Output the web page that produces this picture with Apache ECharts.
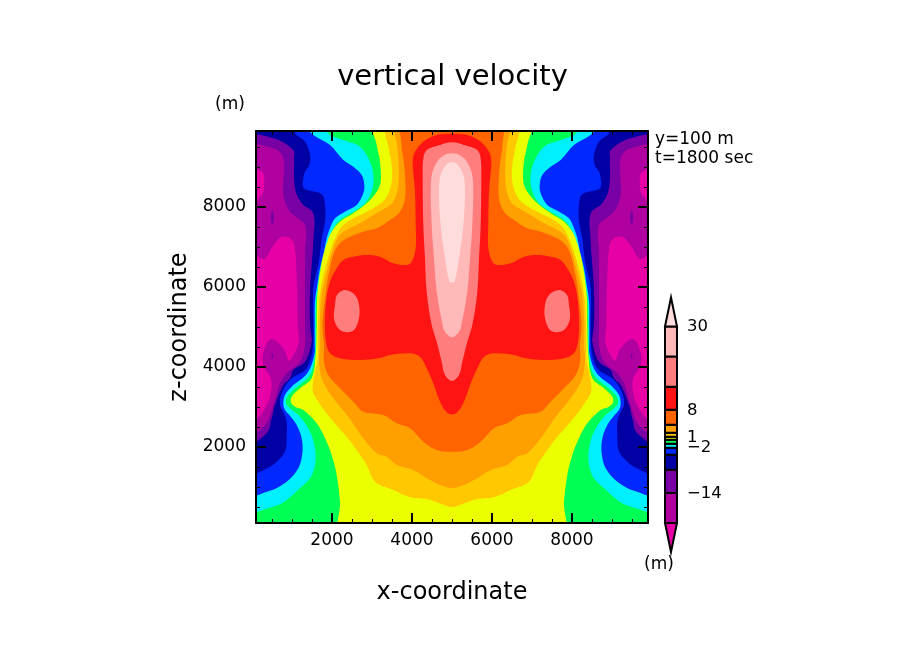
<!DOCTYPE html>
<html><head><meta charset="utf-8">
<style>html,body{margin:0;padding:0;background:#fff}#c{width:904px;height:654px}</style>
<script src="https://cdn.jsdelivr.net/npm/echarts@6/dist/echarts.min.js"></script>
</head><body><div id="c"></div>
<script>
// Left-hand half outlines of each contour, in metres [x, z].
const yellowOutline=[[3033,9900],[3117,9550],[3200,9133],[3217,8633],[3117,8383],[2867,8092],[2533,7842],[2200,7633],[1992,7383],[1883,7133],[1783,6800],[1717,6467],[1658,6050],[1625,5633],[1617,5050],[1608,4633],[1592,4300],[1492,3717],[1200,3467],[992,3258],[975,3117],[1075,3008],[1283,2925],[1617,2592],[1825,2217],[1992,1800],[2117,1300],[2200,633],[2250,100]];
const goldOutline=[[3383,9900],[3433,9383],[3492,9050],[3492,8633],[3367,8258],[3158,8050],[2867,7883],[2533,7717],[2242,7508],[2075,7217],[1950,6883],[1825,6467],[1733,6050],[1675,5633],[1650,5050],[1650,4633],[1642,4217],[1575,3883],[1517,3550],[1533,3342],[1742,3008],[2033,2633],[2367,2258],[2617,1925],[2867,1550],[3075,1133],[3533,925],[3950,742],[4367,700],[4700,592],[5000,492]];
const orangeOutline=[[3550,9900],[3617,9633],[3658,9217],[3658,8550],[3533,8133],[3325,7967],[3033,7800],[2700,7592],[2367,7425],[2158,7258],[2033,6967],[1933,6633],[1833,6217],[1742,5800],[1692,5050],[1700,4550],[1675,4217],[1742,3717],[2033,3217],[2408,2758],[2783,2217],[3117,1842],[3367,1758],[3617,1550],[4033,1425],[4367,1217],[4700,1050],[5000,975]];
const deepOrangeOutline=[[3783,9900],[3742,9508],[3783,9217],[3825,8800],[3825,8217],[3700,7883],[3450,7675],[3117,7467],[2783,7383],[2367,7217],[2158,7050],[2033,6800],[1950,6467],[1883,6133],[1825,5717],[1758,5050],[1800,4550],[1800,4133],[1908,3800],[2200,3467],[2533,3133],[2783,2883],[3283,2800],[3617,2592],[3950,2467],[4283,2133],[4617,1925],[5000,1883]];
const redOutline=[[5000,9833],[4617,9800],[4283,9633],[4075,9383],[4017,9133],[4075,8383],[4092,7550],[4092,6967],[3992,6633],[3867,6550],[3533,6592],[3200,6758],[2867,6800],[2533,6758],[2283,6675],[2117,6467],[1950,6133],[1850,5633],[1825,5050],[1850,4633],[1950,4342],[2200,4217],[2700,4175],[3158,4217],[3450,4300],[3950,4342],[4200,4258],[4367,3967],[4533,3592],[4700,3133],[4867,2867],[5000,2817]];
const salmonOutline=[[5000,9617],[4700,9550],[4367,9425],[4283,9217],[4267,8800],[4283,7550],[4325,6717],[4367,5883],[4492,5050],[4617,4633],[4742,4133],[4825,3800],[5000,3650]];
const pinkOutline=[[5000,9342],[4742,9258],[4558,9008],[4475,8633],[4492,7550],[4550,6717],[4617,5883],[4767,5050],[4825,4883],[5000,4742]];
const lightOutline=[[5000,9117],[4867,9067],[4717,8800],[4675,8383],[4717,7550],[4825,6717],[4933,6133],[5000,6117]];
const salmonBlob=[[2325,5925],[2125,5800],[2075,5550],[2050,5225],[2150,4975],[2325,4875],[2550,4925],[2675,5225],[2675,5550],[2575,5800]];
const cyanRegion=[[100,9900],[1533,9900],[1950,9800],[2283,9675],[2700,9508],[2950,9133],[3033,8800],[3017,8467],[2825,8092],[2533,7883],[2200,7675],[2033,7467],[1933,7217],[1825,6883],[1717,6467],[1658,6050],[1600,5633],[1592,5050],[1592,4633],[1575,4300],[1450,3800],[1033,3425],[883,3258],[850,3092],[950,2967],[1200,2758],[1450,2383],[1575,1967],[1575,1550],[1450,1217],[1200,967],[867,675],[533,508],[100,442]];
const blueRegion=[[100,9900],[1075,9900],[1533,9800],[1950,9550],[2283,9175],[2533,9008],[2742,8800],[2808,8550],[2783,8342],[2617,8050],[2325,7883],[2075,7717],[1950,7467],[1867,7217],[1800,6883],[1700,6467],[1633,6050],[1575,5633],[1567,5050],[1567,4633],[1558,4300],[1383,3842],[992,3508],[825,3300],[783,3092],[825,2925],[933,2800],[1117,2550],[1242,2217],[1258,1842],[1158,1467],[867,1133],[450,908],[100,825]];
const navyRegion=[[100,9867],[992,9867],[1075,9842],[1325,9633],[1450,9300],[1433,9050],[1325,8883],[1283,8717],[1300,8467],[1742,8317],[1825,8050],[1825,7633],[1742,7217],[1700,6842],[1658,6550],[1533,5967],[1533,5050],[1517,4467],[1367,3967],[950,3675],[742,3342],[700,3050],[783,2883],[867,2633],[867,2300],[842,1925],[700,1717],[450,1508],[100,1342]];
const purpleRegion=[[100,9717],[533,9717],[1033,9425],[1050,9217],[1075,8467],[1242,8092],[1533,7842],[1533,7133],[1492,6550],[1450,5883],[1450,5050],[1492,4633],[1325,4133],[1033,3925],[950,3717],[783,3550],[575,3050],[492,2717],[367,2342],[100,2050]];
const violetRegion=[[100,9483],[533,9467],[783,9217],[783,8300],[950,7883],[1325,7550],[1325,6883],[1325,5883],[1325,5050],[1325,4550],[1200,4133],[867,3842],[700,3592],[533,3050],[325,2550],[100,2258]];
const magentaTop=[[100,8967],[242,8883],[308,8633],[242,8300],[100,7883]];
const magentaMain=[[100,7008],[283,6700],[492,6967],[700,7233],[933,7233],[1058,7050],[1117,6300],[1142,5050],[1158,4592],[933,4158],[783,4467],[492,4700],[300,4425],[283,4050],[492,3633],[325,2967],[100,2467]];
const purpleSliver=[[508,7925],[550,7700],[508,7550],[467,7700]];
const purpleDot=[[508,4350],[530,4250],[490,4200]];

const colors={green:'#00ff55',cyan:'#00f0ff',blue:'#0028ff',navy:'#0000a5',purple:'#7800a5',violet:'#b000a0',magenta:'#e600a5',
 yellow:'#ebff00',gold:'#ffc800',orange:'#ff9f00',deep:'#ff6400',red:'#ff1414',salmon:'#ff7d7d',pink:'#ffb9b9',light:'#ffdcdc'};

// Tick values and labels
const majorTicks=[2000,4000,6000,8000];
const minorTicks=[500,1000,1500,2500,3000,3500,4500,5000,5500,6500,7000,7500,8500,9000,9500];
// Colour bar: band edges in bar height units, bottom tip to top tip, and labels
const barEdges=[0,29,59,82,97,104,108,112,115,119,127,142,165,195,225,254];
const barColors=['magenta','violet','purple','navy','blue','cyan','green','yellow','gold','orange','deep','red','salmon','pink','light'];
const barLabelPos=[225,141,114,104,58];
const barLabelText=['30','8','1','\u22122','\u221214'];

const mirrorPts=p=>p.map(q=>[10000-q[0],q[1]]);
// Points lying on the frame are carried past it so the clip, not the curve, makes the edge.
const pastFrame=p=>p.map(q=>[q[0]<=100?q[0]-300:q[0]>=9900?q[0]+300:q[0], q[1]>=9860?q[1]+300:q[1]<=100?q[1]-300:q[1]]);
const whole=o=>o.concat(mirrorPts(o).reverse().filter(q=>q[0]!==5000));
const regions=[];
[[cyanRegion,'cyan'],[blueRegion,'blue'],[navyRegion,'navy'],[purpleRegion,'purple'],[violetRegion,'violet'],[magentaTop,'magenta'],[magentaMain,'magenta'],[purpleSliver,'purple'],[purpleDot,'purple']]
 .forEach(r=>{regions.push({p:pastFrame(r[0]),c:r[1]});regions.push({p:pastFrame(mirrorPts(r[0])),c:r[1]});});
[[yellowOutline,'yellow'],[goldOutline,'gold'],[orangeOutline,'orange'],[deepOrangeOutline,'deep'],[redOutline,'red'],[salmonOutline,'salmon'],[pinkOutline,'pink'],[lightOutline,'light']]
 .forEach(r=>regions.push({p:pastFrame(whole(r[0])),c:r[1]}));
regions.splice(regions.length-3,0,{p:salmonBlob,c:'salmon'},{p:mirrorPts(salmonBlob),c:'salmon'});

const FONT='DejaVu Sans';
const black='#000';
function ax(pos,major,extra){return Object.assign({type:'value',gridIndex:0,min:100,max:9900,position:pos,z:10,
  splitLine:{show:false},axisLine:{show:major,onZero:false,lineStyle:{color:black,width:2}},
  axisTick:{show:true,inside:true,length:major?10:4,customValues:major?majorTicks:minorTicks,lineStyle:{color:black,width:major?2:1}},
  axisLabel:{show:false}},extra||{});}
const tickLabel={show:true,customValues:majorTicks,color:black,fontFamily:FONT,fontSize:17,hideOverlap:false,formatter:v=>String(v)};

const option={
 animation:false,backgroundColor:'#fff',
 title:[
  {text:'vertical velocity',left:452.5,top:63,textAlign:'center',padding:0,textStyle:{fontFamily:FONT,fontWeight:'normal',fontSize:29,color:black}},
  {text:'(m)',left:230,top:96,textAlign:'center',padding:0,textStyle:{fontFamily:FONT,fontWeight:'normal',fontSize:17,color:black}},
  {text:'y=100 m',left:655,top:131,padding:0,textStyle:{fontFamily:FONT,fontWeight:'normal',fontSize:17,color:black}},
  {text:'t=1800 sec',left:655,top:150,padding:0,textStyle:{fontFamily:FONT,fontWeight:'normal',fontSize:17,color:black}},
  {text:'(m)',left:659,top:556,textAlign:'center',padding:0,textStyle:{fontFamily:FONT,fontWeight:'normal',fontSize:17,color:black}}
 ],
 grid:[{left:256,top:131,width:392,height:392,backgroundColor:colors.green,show:true,borderWidth:0},
       {left:665,top:297.5,width:12,height:254.5,show:false}],
 xAxis:[
  ax('bottom',true,{name:'x-coordinate',nameLocation:'middle',nameGap:58,nameTextStyle:{fontFamily:FONT,fontSize:24,color:black},
     axisLabel:Object.assign({margin:9},tickLabel)}),
  ax('bottom',false),ax('top',true),ax('top',false),
  {type:'value',gridIndex:1,min:0,max:1,show:false}
 ],
 yAxis:[
  ax('left',true,{name:'z-coordinate',nameLocation:'middle',nameGap:64,nameRotate:90,nameTextStyle:{fontFamily:FONT,fontSize:24,color:black},
     axisLabel:Object.assign({margin:10},tickLabel)}),
  ax('left',false),ax('right',true),ax('right',false),
  {type:'value',gridIndex:1,min:0,max:254,position:'right',axisLine:{show:false},axisTick:{show:false},splitLine:{show:false},
   axisLabel:{show:true,margin:10,customValues:barLabelPos,hideOverlap:false,color:black,fontFamily:FONT,fontSize:16.5,
     formatter:v=>barLabelText[barLabelPos.indexOf(v)]}}
 ],
 series:[
  {type:'custom',xAxisIndex:0,yAxisIndex:0,clip:true,silent:true,data:regions.map((r,i)=>[i]),encode:{x:[],y:[]},
   renderItem:(params,api)=>{const r=regions[api.value(0)];
     return {type:'polygon',shape:{points:r.p.map(q=>api.coord(q)),smooth:0.35},style:{fill:colors[r.c]}};}},
  {type:'custom',xAxisIndex:4,yAxisIndex:4,clip:false,silent:true,data:barColors.map((c,i)=>[i]),encode:{x:[],y:[]},z:3,
   renderItem:(params,api)=>{const i=api.value(0),lo=barEdges[i],hi=barEdges[i+1];
     let pts;
     if(i===0) pts=[[0.5,lo],[1,hi],[0,hi]];
     else if(i===barColors.length-1) pts=[[0,lo],[1,lo],[0.5,hi]];
     else pts=[[0,lo],[1,lo],[1,hi],[0,hi]];
     return {type:'polygon',shape:{points:pts.map(q=>api.coord(q))},style:{fill:colors[barColors[i]],stroke:black,lineWidth:2}};}}
 ]
};
const chart=echarts.init(document.getElementById('c'),null,{renderer:'canvas',width:904,height:654});
chart.setOption(option);
</script></body></html>
